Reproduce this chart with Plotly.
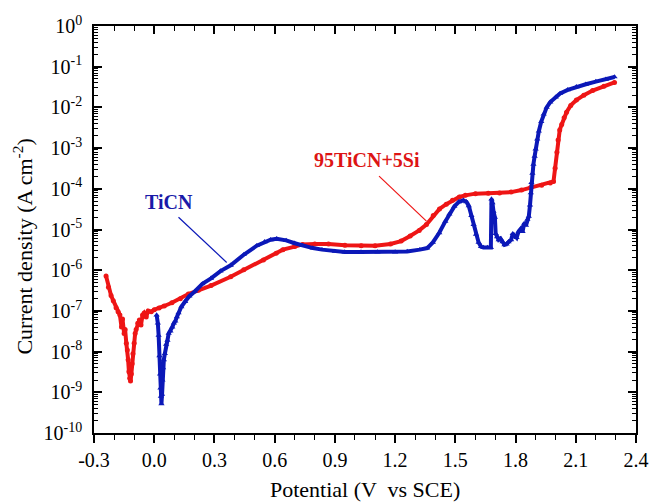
import plotly.graph_objects as go

# ---------------- data ----------------
# 95TiCN+5Si (red)
red_potential = [-0.240, -0.228, -0.215, -0.204, -0.190, -0.180, -0.171, -0.163, -0.158, -0.150,
                 -0.145, -0.139, -0.134, -0.130, -0.126, -0.122, -0.118, -0.114, -0.110, -0.106,
                 -0.100, -0.095, -0.090, -0.082, -0.074, -0.066, -0.058, -0.050, -0.040, -0.030,
                 -0.015, 0.000, 0.024, 0.050, 0.088, 0.130, 0.170, 0.220, 0.283, 0.381,
                 0.446, 0.544, 0.608, 0.641, 0.700, 0.739, 0.800, 0.868, 0.950, 1.031,
                 1.100, 1.177, 1.230, 1.275, 1.320, 1.356, 1.390, 1.421, 1.455, 1.486,
                 1.520, 1.550, 1.600, 1.664, 1.720, 1.778, 1.830, 1.875, 1.930, 1.973,
                 1.989, 1.997, 2.006, 2.012, 2.020, 2.030, 2.042, 2.054, 2.075, 2.103,
                 2.140, 2.184, 2.240, 2.293]
red_current = [7.2e-7, 3.8e-7, 2.4e-7, 1.78e-7, 1.2e-7, 9.5e-8, 7.9e-8, 4.0e-8, 6.3e-8, 2.8e-8,
               3.5e-8, 1.6e-8, 1.1e-8, 6.3e-9, 3.2e-9, 2.2e-9, 1.9e-9, 2.8e-9, 5.0e-9, 8.9e-9,
               1.6e-8, 2.8e-8, 3.5e-8, 5.0e-8, 6.0e-8, 4.5e-8, 7.9e-8, 8.9e-8, 7.1e-8, 1.0e-7,
               9.5e-8, 1.07e-7, 1.17e-7, 1.32e-7, 1.58e-7, 2.0e-7, 2.6e-7, 3.2e-7, 4.2e-7, 6.9e-7,
               1.02e-6, 1.78e-6, 2.6e-6, 3.2e-6, 3.8e-6, 4.3e-6, 4.4e-6, 4.4e-6, 4.1e-6, 4.0e-6,
               4.0e-6, 4.4e-6, 5.2e-6, 6.9e-6, 9.5e-6, 1.32e-5, 2.2e-5, 3.2e-5, 4.2e-5, 5.2e-5,
               6.3e-5, 6.9e-5, 7.6e-5, 7.8e-5, 7.9e-5, 8.3e-5, 9.3e-5, 1.07e-4, 1.23e-4, 1.38e-4,
               1.51e-4, 3.2e-4, 7.9e-4, 1.58e-3, 2.8e-3, 3.8e-3, 5.6e-3, 7.6e-3, 1.12e-2, 1.51e-2,
               2.0e-2, 2.6e-2, 3.3e-2, 4.1e-2]

# TiCN (blue)
blue_potential = [0.012, 0.018, 0.022, 0.026, 0.029, 0.031, 0.033, 0.036, 0.039, 0.041,
                  0.044, 0.048, 0.053, 0.059, 0.066, 0.072, 0.081, 0.090, 0.098, 0.105,
                  0.113, 0.121, 0.135, 0.154, 0.175, 0.202, 0.240, 0.283, 0.330, 0.381,
                  0.446, 0.511, 0.550, 0.580, 0.610, 0.657, 0.700, 0.739, 0.790, 0.836,
                  0.900, 0.949, 1.030, 1.112, 1.200, 1.260, 1.323, 1.360, 1.388, 1.420,
                  1.450, 1.470, 1.495, 1.518, 1.540, 1.555, 1.567, 1.580, 1.591, 1.603,
                  1.616, 1.628, 1.640, 1.660, 1.677, 1.680, 1.685, 1.690, 1.697, 1.701,
                  1.708, 1.716, 1.725, 1.735, 1.745, 1.755, 1.765, 1.778, 1.786, 1.794,
                  1.805, 1.815, 1.827, 1.835, 1.843, 1.852, 1.859, 1.866, 1.872, 1.876,
                  1.879, 1.884, 1.889, 1.895, 1.900, 1.908, 1.916, 1.928, 1.940, 1.955,
                  1.973, 2.000, 2.022, 2.060, 2.103, 2.150, 2.200, 2.250, 2.293]
blue_current = [7.9e-8, 5.0e-8, 2.5e-8, 7.9e-9, 2.8e-9, 1.26e-9, 7.9e-10, 5.2e-10, 8.9e-10, 2.0e-9,
                4.0e-9, 6.3e-9, 8.9e-9, 1.5e-8, 1.9e-8, 2.8e-8, 3.2e-8, 4.0e-8, 5.0e-8, 5.6e-8,
                7.1e-8, 8.9e-8, 1.26e-7, 1.7e-7, 2.3e-7, 3.0e-7, 4.6e-7, 6.3e-7, 9.5e-7, 1.32e-6,
                2.4e-6, 4.0e-6, 5.0e-6, 5.6e-6, 5.9e-6, 5.4e-6, 4.6e-6, 4.0e-6, 3.5e-6, 3.2e-6,
                2.9e-6, 2.8e-6, 2.8e-6, 2.8e-6, 2.8e-6, 2.9e-6, 3.2e-6, 3.5e-6, 4.8e-6, 8.3e-6,
                1.58e-5, 2.4e-5, 3.7e-5, 4.8e-5, 5.2e-5, 4.8e-5, 3.8e-5, 2.2e-5, 1.32e-5, 7.6e-6,
                4.8e-6, 3.8e-6, 3.6e-6, 3.6e-6, 3.6e-6, 5.6e-5, 4.5e-5, 2.8e-5, 2.0e-5, 7.9e-6,
                6.6e-6, 5.6e-6, 6.0e-6, 5.0e-6, 4.2e-6, 4.4e-6, 5.0e-6, 5.6e-6, 7.9e-6, 6.9e-6,
                6.3e-6, 8.9e-6, 1.05e-5, 8.9e-6, 1.41e-5, 1.26e-5, 1.78e-5, 2.1e-5, 4.0e-5, 7.9e-5,
                1.41e-4, 2.4e-4, 4.0e-4, 6.3e-4, 9.5e-4, 1.66e-3, 2.6e-3, 4.5e-3, 6.8e-3, 1.0e-2,
                1.35e-2, 1.78e-2, 2.2e-2, 2.7e-2, 3.2e-2, 3.7e-2, 4.3e-2, 4.9e-2, 5.6e-2]

# axis ticks
x_tickvals = [-0.3, 0.0, 0.3, 0.6, 0.9, 1.2, 1.5, 1.8, 2.1, 2.4]
x_ticktext = ["-0.3", "0.0", "0.3", "0.6", "0.9", "1.2", "1.5", "1.8", "2.1", "2.4"]
y_exponents = [0, -1, -2, -3, -4, -5, -6, -7, -8, -9, -10]

# label annotations: text position (V, log10 j) and pointer line ends (V, j)
ticn_label = dict(text="TiCN", x=0.072, logy=-4.32)
ticn_pointer_x = [0.121, 0.361]
ticn_pointer_y = [2.0e-5, 1.55e-6]
si_label = dict(text="95TiCN+5Si", x=1.062, logy=-3.30)
si_pointer_x = [1.120, 1.356]
si_pointer_y = [2.05e-4, 1.6e-5]

BLUE = "#0B18B8"
RED = "#EE1515"
FONT = "Liberation Serif, Times New Roman, serif"

y_tickvals = [10.0 ** e for e in y_exponents]
y_ticktext = ["10<sup>%d</sup>" % e for e in y_exponents]
y_minor = [m * 10.0 ** e for e in range(-10, 0) for m in range(2, 10)]

fig = go.Figure()

fig.add_trace(go.Scatter(
    x=red_potential, y=red_current, mode="lines+markers",
    line=dict(color=RED, width=4),
    marker=dict(symbol="circle", size=5, color=RED),
    name="95TiCN+5Si", showlegend=False, hoverinfo="skip"))

fig.add_trace(go.Scatter(
    x=blue_potential, y=blue_current, mode="lines+markers",
    line=dict(color=BLUE, width=4),
    marker=dict(symbol="triangle-up", size=5.5, color=BLUE),
    name="TiCN", showlegend=False, hoverinfo="skip"))

# pointer lines of the labels
fig.add_trace(go.Scatter(x=ticn_pointer_x, y=ticn_pointer_y, mode="lines",
                         line=dict(color=BLUE, width=1.2), showlegend=False, hoverinfo="skip"))
fig.add_trace(go.Scatter(x=si_pointer_x, y=si_pointer_y, mode="lines",
                         line=dict(color=RED, width=1.2), showlegend=False, hoverinfo="skip"))

# invisible trace to activate the top axis (inside ticks)
fig.add_trace(go.Scatter(x=[x_tickvals[0]], y=[y_tickvals[-1]], xaxis="x2", mode="markers",
                         marker=dict(opacity=0), showlegend=False, hoverinfo="skip"))

axis_common = dict(showline=True, linecolor="black", linewidth=1.6, showgrid=False,
                   zeroline=False, tickcolor="black", tickwidth=1.5)

fig.update_layout(
    width=661, height=504,
    margin=dict(l=94, r=13, t=26, b=71),
    paper_bgcolor="white", plot_bgcolor="white",
    font=dict(family=FONT, size=20, color="black"),
    xaxis=dict(range=[-0.3, 2.4], tickmode="array", tickvals=x_tickvals, ticktext=x_ticktext,
               ticks="outside", ticklen=8, mirror=False,
               tickfont=dict(size=20, family=FONT),
               minor=dict(tickmode="linear", tick0=-0.3, dtick=0.1, ticks="outside", ticklen=5,
                          tickcolor="black", tickwidth=1.3),
               **axis_common),
    xaxis2=dict(range=[-0.3, 2.4], overlaying="x", side="top", anchor="y",
                tickmode="array", tickvals=x_tickvals, showticklabels=False,
                ticks="inside", ticklen=8,
                minor=dict(tickmode="linear", tick0=-0.3, dtick=0.1, ticks="inside", ticklen=5,
                           tickcolor="black", tickwidth=1.3),
                **axis_common),
    yaxis=dict(type="log", range=[-10, 0], tickmode="array", tickvals=y_tickvals,
               ticktext=y_ticktext, ticks="inside", ticklen=8, mirror="ticks",
               tickfont=dict(size=20, family=FONT), ticklabelstandoff=6,
               minor=dict(tickmode="array", tickvals=y_minor, ticks="inside", ticklen=4,
                          tickcolor="black", tickwidth=1.1),
               **axis_common),
    annotations=[
        dict(text="<b>%s</b>" % ticn_label["text"], x=ticn_label["x"], y=ticn_label["logy"],
             xref="x", yref="y", showarrow=False, font=dict(size=20, color="#1A1AA8", family=FONT)),
        dict(text="<b>%s</b>" % si_label["text"], x=si_label["x"], y=si_label["logy"],
             xref="x", yref="y", showarrow=False, font=dict(size=20, color="#DD1414", family=FONT)),
        dict(text="Potential (V  vs SCE)", x=0.5, y=(433 - 489) / 407, xref="paper", yref="paper",
             xanchor="center", yanchor="middle", showarrow=False, font=dict(size=22, family=FONT)),
        dict(text="Current density (A cm<sup>-2</sup>)", x=(21 - 94) / 554, y=1 - (247 - 26) / 407,
             xref="paper", yref="paper", xanchor="center", yanchor="middle", textangle=-90,
             showarrow=False, font=dict(size=22, family=FONT)),
    ],
)

fig.write_html("out.html")
